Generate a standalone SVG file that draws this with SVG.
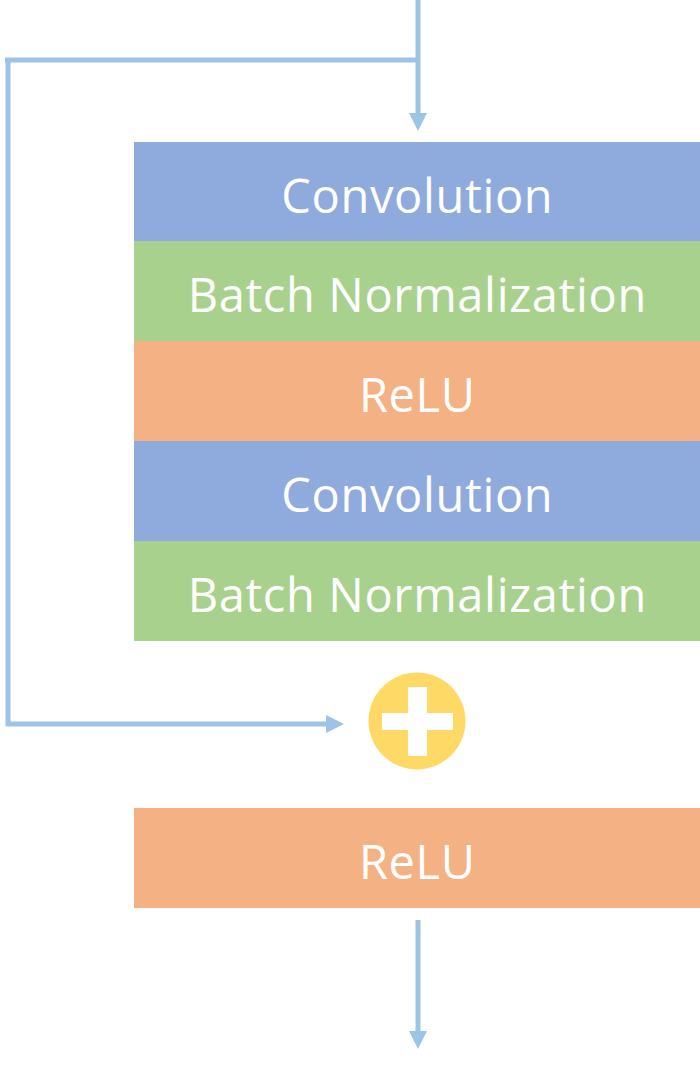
<svg xmlns="http://www.w3.org/2000/svg" width="700" height="1066" viewBox="0 0 700 1066">
  <style>
    .lbl { font-family: "Open Sans", "Noto Sans", "Liberation Sans", sans-serif; font-size: 47px; letter-spacing: 0.65px; fill: #FFFFFF; text-anchor: middle; }
    .conv { fill: #8FAADC; }
    .bn { fill: #A9D18E; }
    .relu { fill: #F4B183; }
    .wire { fill: none; stroke: #9DC3E6; stroke-width: 5; }
    .head { fill: #9DC3E6; }
  </style>
  <rect width="700" height="1066" fill="#FFFFFF"/>
  <g id="connectors">
    <line class="wire" x1="418" y1="0" x2="418" y2="114"/>
    <polygon class="head" points="409,113 427,113 418,131"/>
    <polyline class="wire" points="418,60 5,60"/>
    <polyline class="wire" points="8,58 8,724 327,724"/>
    <polygon class="head" points="326,715 344,724 326,733"/>
    <line class="wire" x1="418" y1="920" x2="418" y2="1032"/>
    <polygon class="head" points="409,1031 427,1031 418,1049"/>
  </g>
  <g id="conv1">
    <rect class="conv" x="134" y="142" width="566" height="99"/>
    <text class="lbl" x="417.3" y="212.5">Convolution</text>
  </g>
  <g id="bn1">
    <rect class="bn" x="134" y="241" width="566" height="100"/>
    <text class="lbl" x="417.3" y="311.5">Batch Normalization</text>
  </g>
  <g id="relu1">
    <rect class="relu" x="134" y="341" width="566" height="100"/>
    <text class="lbl" x="417.3" y="411.5">ReLU</text>
  </g>
  <g id="conv2">
    <rect class="conv" x="134" y="441" width="566" height="100"/>
    <text class="lbl" x="417.3" y="511.5">Convolution</text>
  </g>
  <g id="bn2">
    <rect class="bn" x="134" y="541" width="566" height="100"/>
    <text class="lbl" x="417.3" y="611.5">Batch Normalization</text>
  </g>
  <g id="add">
    <circle cx="417" cy="721" r="48.5" fill="#FFD966"/>
    <rect x="408" y="687" width="19" height="69" fill="#FFFFFF"/>
    <rect x="382" y="713" width="71" height="17" fill="#FFFFFF"/>
  </g>
  <g id="relu2">
    <rect class="relu" x="134" y="808" width="566" height="100"/>
    <text class="lbl" x="417.3" y="878.5">ReLU</text>
  </g>
</svg>
